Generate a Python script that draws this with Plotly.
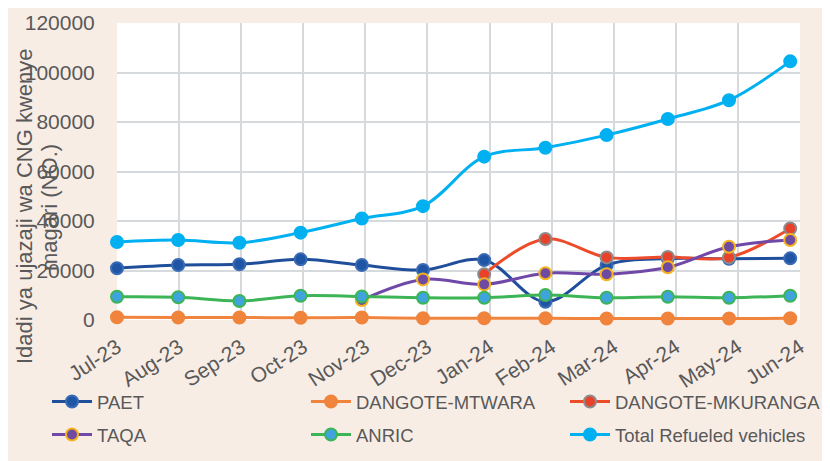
import plotly.graph_objects as go

months = ["Jul-23", "Aug-23", "Sep-23", "Oct-23", "Nov-23", "Dec-23",
          "Jan-24", "Feb-24", "Mar-24", "Apr-24", "May-24", "Jun-24"]

paet = [20900, 22200, 22500, 24500, 22200, 20200, 24200, 7400, 22200, 24800, 24700, 24900]
mtwara = [1100, 1000, 1000, 900, 1000, 700, 700, 700, 600, 600, 600, 700]
mkuranga = [None, None, None, None, None, None, 18500, 32700, 25300, 25500, 25300, 37000]
taqa = [None, None, None, None, 8100, 16400, 14400, 18900, 18500, 21300, 29600, 32300]
anric = [9400, 9200, 7700, 9800, 9500, 9000, 9000, 10100, 9000, 9400, 9000, 9800]
total = [31500, 32300, 31200, 35300, 41000, 46000, 66000, 69600, 74700, 81200, 88800, 104500]

y_ticks = [0, 20000, 40000, 60000, 80000, 100000, 120000]

GRAY = "#595959"
FONT = "Liberation Sans, Arial, sans-serif"

series = [
    ("PAET", paet, "#1F4E9B", "#1F55A5", "#3A6AB4", "legend"),
    ("DANGOTE-MTWARA", mtwara, "#F0843C", "#F0843C", "#F0843C", "legend"),
    ("DANGOTE-MKURANGA", mkuranga, "#EE4B2B", "#E8432A", "#8C8C8C", "legend"),
    ("TAQA", taqa, "#7048A8", "#6F4AA3", "#F5B41E", "legend2"),
    ("ANRIC", anric, "#3DB556", "#3FA4DC", "#3DB556", "legend2"),
    ("Total Refueled vehicles", total, "#00B0F0", "#00B0F0", "#00B0F0", "legend2"),
]

fig = go.Figure()
# helper (no data) so the category-label / vertical-grid axis gets drawn
fig.add_trace(go.Scatter(x=[], y=[], xaxis="x2", yaxis="y", showlegend=False,
                         hoverinfo="skip", mode="lines"))
for name, vals, lc, mfill, mline, lg in series:
    fig.add_trace(go.Scatter(
        x=months, y=vals, name=name, mode="lines+markers",
        line=dict(color=lc, width=3, shape="spline", smoothing=1),
        marker=dict(size=12, color=mfill, line=dict(color=mline, width=2)),
        cliponaxis=False, legend=lg,
    ))

# page body adds an 8px offset; positions below are in reference-image pixels
OFF = 8
FW, FH = 830 - OFF, 461 - OFF
L, T, W, H = 117 - OFF, 23 - OFF, 683, 297
def px_x(p):
    return (p - OFF - L) / W
def px_y(p):
    return (T + H - (p - OFF)) / H

legend_font = dict(size=18.5, color=GRAY, family=FONT)

fig.update_layout(
    width=FW, height=FH,
    margin=dict(l=L, r=FW - L - W, t=T, b=FH - T - H, autoexpand=False),
    paper_bgcolor="#F8EDE5",
    plot_bgcolor="white",
    font=dict(family=FONT, color=GRAY),
    showlegend=True,
    xaxis=dict(
        type="category", range=[0, 11.16], showgrid=False, zeroline=False,
        showticklabels=False, ticks="", showline=False, automargin=False,
    ),
    xaxis2=dict(
        overlaying="x", anchor="y", side="bottom", range=[0, 11],
        tickvals=list(range(len(months))), ticktext=months,
        showgrid=True, gridcolor="#D6DADD", gridwidth=1.5,
        tickangle=-33, tickfont=dict(size=21, color=GRAY, family=FONT),
        ticks="outside", ticklen=6, tickcolor="rgba(0,0,0,0)",
        zeroline=False, showline=False, automargin=False,
    ),
    yaxis=dict(
        range=[0, 120000], tickvals=y_ticks, tickformat="d", showgrid=True,
        gridcolor="#D6DADD", gridwidth=1.5, zeroline=False,
        tickfont=dict(size=21, color=GRAY, family=FONT),
        ticks="outside", ticklen=17, tickcolor="rgba(0,0,0,0)",
        showline=False, automargin=False,
    ),
    legend=dict(
        orientation="h", x=px_x(47), xanchor="left", y=px_y(402), yanchor="middle",
        entrywidth=204, entrywidthmode="pixels", bgcolor="rgba(0,0,0,0)",
        font=legend_font, itemwidth=40,
    ),
    legend2=dict(
        orientation="h", x=px_x(47), xanchor="left", y=px_y(435), yanchor="middle",
        entrywidth=204, entrywidthmode="pixels", bgcolor="rgba(0,0,0,0)",
        font=legend_font, itemwidth=40,
    ),
    annotations=[
        dict(text="Idadi ya ujazaji wa CNG kwenye", textangle=-90,
             xref="paper", yref="paper", x=px_x(24), y=px_y(207),
             xanchor="center", yanchor="middle", showarrow=False,
             font=dict(size=22, color=GRAY, family=FONT)),
        dict(text="magari (NO.)", textangle=-90,
             xref="paper", yref="paper", x=px_x(50), y=px_y(208),
             xanchor="center", yanchor="middle", showarrow=False,
             font=dict(size=22, color=GRAY, family=FONT)),
    ],
)

fig.write_html("out.html")
